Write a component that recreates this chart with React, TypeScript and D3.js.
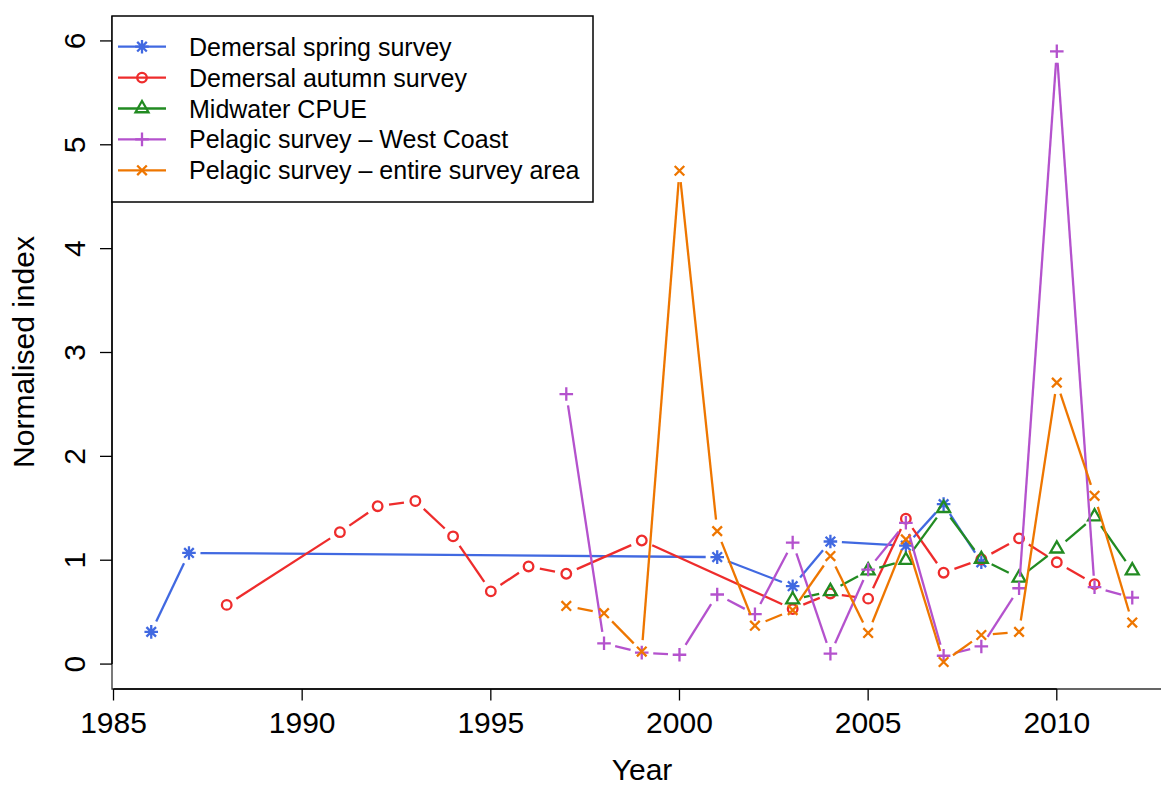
import React from "react";
import * as d3 from "d3";

const springYears = [1986, 1987, 2001, 2003, 2004, 2006, 2007, 2008];
const springValues = [0.31, 1.07, 1.03, 0.75, 1.18, 1.14, 1.54, 0.98];

const autumnYears = [1988, 1991, 1992, 1993, 1994, 1995, 1996, 1997, 1999, 2003, 2004, 2005, 2006, 2007, 2008, 2009, 2010, 2011];
const autumnValues = [0.57, 1.27, 1.52, 1.57, 1.23, 0.70, 0.94, 0.87, 1.19, 0.53, 0.68, 0.63, 1.40, 0.88, 1.01, 1.21, 0.98, 0.77];

const midwaterYears = [2003, 2004, 2005, 2006, 2007, 2008, 2009, 2010, 2011, 2012];
const midwaterValues = [0.62, 0.70, 0.90, 1.00, 1.50, 1.01, 0.83, 1.11, 1.42, 0.90];

const westYears = [1997, 1998, 1999, 2000, 2001, 2002, 2003, 2004, 2005, 2006, 2007, 2008, 2009, 2010, 2011, 2012];
const westValues = [2.60, 0.20, 0.11, 0.09, 0.67, 0.48, 1.17, 0.10, 0.91, 1.36, 0.08, 0.17, 0.73, 5.90, 0.74, 0.64];

const entireYears = [1997, 1998, 1999, 2000, 2001, 2002, 2003, 2004, 2005, 2006, 2007, 2008, 2009, 2010, 2011, 2012];
const entireValues = [0.56, 0.49, 0.12, 4.75, 1.28, 0.37, 0.52, 1.04, 0.30, 1.20, 0.02, 0.28, 0.31, 2.71, 1.62, 0.40];

const seriesNames = [
  "Demersal spring survey",
  "Demersal autumn survey",
  "Midwater CPUE",
  "Pelagic survey \u2013 West Coast",
  "Pelagic survey \u2013 entire survey area",
];
const seriesColors = ["#4169E1", "#EE2C2C", "#228B22", "#B452CD", "#EE7600"];
const seriesShapes = ["asterisk", "circle", "triangle", "plus", "cross"];

const xTicks = [1985, 1990, 1995, 2000, 2005, 2010];
const yTicks = [0, 1, 2, 3, 4, 5, 6];

const W = 1161;
const H = 786;
const FONT = "'Liberation Sans', Arial, Helvetica, sans-serif";

const R = 4.8;
const GAP = 11.5;

function markerPath(shape: string, cx: number, cy: number): string {
  const p = d3.path();
  if (shape === "circle") {
    p.moveTo(cx + R, cy);
    p.arc(cx, cy, R, 0, Math.PI * 2);
  } else if (shape === "plus") {
    const s = Math.SQRT2 * R;
    p.moveTo(cx - s, cy); p.lineTo(cx + s, cy);
    p.moveTo(cx, cy - s); p.lineTo(cx, cy + s);
  } else if (shape === "cross") {
    const s = R;
    p.moveTo(cx - s, cy - s); p.lineTo(cx + s, cy + s);
    p.moveTo(cx - s, cy + s); p.lineTo(cx + s, cy - s);
  } else if (shape === "asterisk") {
    const s = R;
    const t = Math.SQRT2 * R;
    p.moveTo(cx - s, cy - s); p.lineTo(cx + s, cy + s);
    p.moveTo(cx - s, cy + s); p.lineTo(cx + s, cy - s);
    p.moveTo(cx - t, cy); p.lineTo(cx + t, cy);
    p.moveTo(cx, cy - t); p.lineTo(cx, cy + t);
  } else if (shape === "triangle") {
    const TRC0 = Math.sqrt((4 * Math.PI) / (3 * Math.sqrt(3)));
    const r = TRC0 * R;
    const yc = (TRC0 / 2) * R;
    const xc = ((TRC0 * Math.sqrt(3)) / 2) * R;
    p.moveTo(cx, cy - r);
    p.lineTo(cx + xc, cy + yc);
    p.lineTo(cx - xc, cy + yc);
    p.closePath();
  }
  return p.toString();
}

export default function App() {
  const x = d3.scaleLinear().domain([1984.96, 2013.04]).range([112, 1171.5]);
  const y = d3.scaleLinear().domain([-0.24, 6.24]).range([689, 16]);

  const series = [
    { years: springYears, values: springValues },
    { years: autumnYears, values: autumnValues },
    { years: midwaterYears, values: midwaterValues },
    { years: westYears, values: westValues },
    { years: entireYears, values: entireValues },
  ];

  const gappedSegments = (years: number[], values: number[]) => {
    const segs: { x1: number; y1: number; x2: number; y2: number }[] = [];
    for (let i = 0; i < years.length - 1; i++) {
      const ax = x(years[i]), ay = y(values[i]);
      const bx = x(years[i + 1]), by = y(values[i + 1]);
      const dx = bx - ax, dy = by - ay;
      const len = Math.hypot(dx, dy);
      if (len <= 2 * GAP) continue;
      const ux = dx / len, uy = dy / len;
      segs.push({ x1: ax + ux * GAP, y1: ay + uy * GAP, x2: bx - ux * GAP, y2: by - uy * GAP });
    }
    return segs;
  };

  const legendX = 112, legendY = 16, legendW = 481, legendH = 186;
  const rowY0 = 46.7, rowStep = 30.9;

  return (
    <svg width={W} height={H} style={{ position: "absolute", left: 0, top: 0, background: "#fff" }}
      fontFamily={FONT}>
      <rect x={0} y={0} width={W} height={H} fill="#fff" />
      <defs>
        <clipPath id="plotclip">
          <rect x={112} y={16} width={1171.5 - 112} height={689 - 16} />
        </clipPath>
      </defs>

      {/* box (bty = "l") */}
      <path d={`M112,16 L112,689 L1171.5,689`} fill="none" stroke="#333" strokeWidth={1.3} />

      {/* x axis */}
      <line x1={x(xTicks[0])} x2={x(xTicks[xTicks.length - 1])} y1={689} y2={689} stroke="#000" strokeWidth={1.5} />
      {xTicks.map((t) => (
        <g key={"xt" + t}>
          <line x1={x(t)} x2={x(t)} y1={689} y2={700.5} stroke="#000" strokeWidth={1.3} />
          <text x={x(t)} y={733} textAnchor="middle" fontSize={30} fill="#000">{t}</text>
        </g>
      ))}

      {/* y axis */}
      <line x1={112} x2={112} y1={y(yTicks[0])} y2={y(yTicks[yTicks.length - 1])} stroke="#000" strokeWidth={1.5} />
      {yTicks.map((t) => (
        <g key={"yt" + t}>
          <line x1={100} x2={112} y1={y(t)} y2={y(t)} stroke="#000" strokeWidth={1.3} />
          <text transform={`translate(84.5,${y(t)}) rotate(-90)`} textAnchor="middle" fontSize={30} fill="#000">{t}</text>
        </g>
      ))}

      <text x={642} y={780} textAnchor="middle" fontSize={30} fill="#000">Year</text>
      <text transform={`translate(34,352) rotate(-90)`} textAnchor="middle" fontSize={30} fill="#000">Normalised index</text>

      {/* data */}
      <g clipPath="url(#plotclip)">
        {series.map((s, si) => (
          <g key={"s" + si}>
            {gappedSegments(s.years, s.values).map((seg, j) => (
              <line key={j} x1={seg.x1} y1={seg.y1} x2={seg.x2} y2={seg.y2}
                stroke={seriesColors[si]} strokeWidth={2.3} strokeLinecap="butt" />
            ))}
            {s.years.map((yr, j) => (
              <path key={"m" + j} d={markerPath(seriesShapes[si], x(yr), y(s.values[j]))}
                fill="none" stroke={seriesColors[si]} strokeWidth={2.3} />
            ))}
          </g>
        ))}
      </g>

      {/* legend */}
      <rect x={legendX} y={legendY} width={legendW} height={legendH} fill="#fff" stroke="#000" strokeWidth={1.5} />
      {seriesNames.map((name, i) => {
        const ry = rowY0 + i * rowStep;
        return (
          <g key={"lg" + i}>
            <line x1={118} x2={166} y1={ry} y2={ry} stroke={seriesColors[i]} strokeWidth={2.3} />
            <path d={markerPath(seriesShapes[i], 142, ry)} fill="none" stroke={seriesColors[i]} strokeWidth={2.3} />
            <text x={189} y={ry + 9} fontSize={25} fill="#000">{name}</text>
          </g>
        );
      })}
    </svg>
  );
}
